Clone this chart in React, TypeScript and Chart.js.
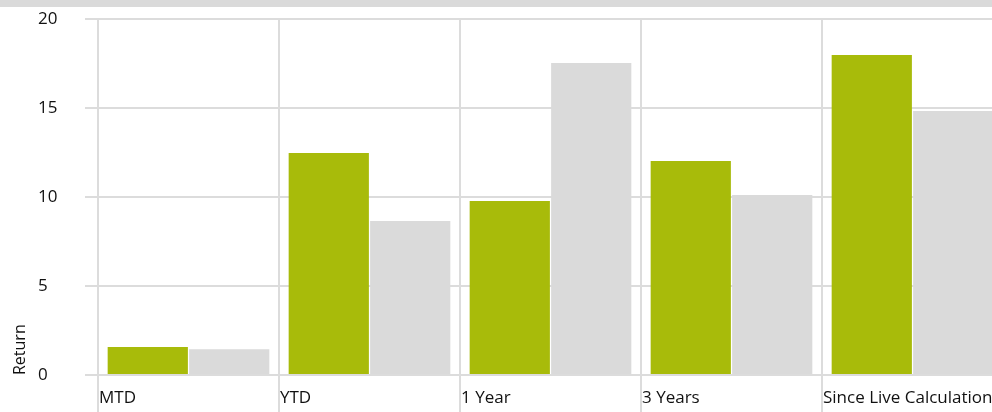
import React, { useEffect, useRef } from "react";
import { Chart, registerables } from "chart.js";

Chart.register(...registerables);

const categories = ["MTD", "YTD", "1 Year", "3 Years", "Since Live Calculation"];
const seriesGreen = [1.57, 12.47, 9.78, 12.02, 17.98];
const seriesGray = [1.45, 8.65, 17.53, 10.11, 14.83];
const yTicks = [0, 5, 10, 15, 20];
const yTitle = "Return";

const FONT = "'Open Sans', sans-serif";
const GRID = "#dcdcdc";

const yTitlePlugin = {
  id: "yTitlePlugin",
  afterDraw(chart: any) {
    const { ctx, chartArea } = chart;
    ctx.save();
    ctx.font = `16px ${FONT}`;
    ctx.fillStyle = "#111";
    ctx.translate(20, chartArea.bottom);
    ctx.rotate(-Math.PI / 2);
    ctx.textAlign = "left";
    ctx.textBaseline = "middle";
    ctx.fillText(yTitle, 0, 0);
    ctx.restore();
  },
};

export default function App() {
  const ref = useRef<HTMLCanvasElement | null>(null);
  useEffect(() => {
    document.body.style.margin = "0";
    const canvas = ref.current!;
    const chart = new Chart(canvas, {
      type: "bar",
      data: {
        labels: categories,
        datasets: [
          { label: "Return", data: seriesGreen, backgroundColor: "#a8bb0a", borderWidth: 0, categoryPercentage: 0.9, barPercentage: 0.985 },
          { label: "Benchmark", data: seriesGray, backgroundColor: "#dadada", borderWidth: 0, categoryPercentage: 0.9, barPercentage: 0.985 },
        ],
      },
      options: {
        animation: false,
        responsive: false,
        maintainAspectRatio: false,
        layout: { padding: { left: 38, top: 19, right: 0, bottom: 0 } },
        plugins: { legend: { display: false }, tooltip: { enabled: false } },
        scales: {
          x: {
            grid: { color: GRID, lineWidth: 2, tickLength: 40, offset: true, drawOnChartArea: true },
            border: { color: GRID, width: 2 },
            ticks: {
              color: "#111",
              font: { family: FONT, size: 17 },
              align: "start",
              labelOffset: -89.5,
              padding: -27,
              autoSkip: false,
              maxRotation: 0,
              minRotation: 0,
            },
            afterFit(scale: any) {
              scale.height = 37;
              scale.paddingLeft = 0;
              scale.paddingRight = 0;
            },
          },
          y: {
            min: 0,
            max: 20,
            afterBuildTicks(scale: any) {
              scale.ticks = yTicks.map((v) => ({ value: v }));
            },
            grid: { color: GRID, lineWidth: 2, tickLength: 13 },
            border: { color: GRID, width: 2 },
            ticks: {
              color: "#111",
              font: { family: FONT, size: 17 },
              crossAlign: "far",
              padding: 8,
            },
            afterFit(scale: any) {
              scale.width = 60;
              scale.paddingTop = 0;
              scale.paddingBottom = 0;
            },
          },
        },
      },
      plugins: [yTitlePlugin],
    });
    return () => chart.destroy();
  }, []);
  return (
    <div style={{ position: "relative", width: 992, height: 412, overflow: "hidden", background: "#fff" }}>
      <canvas ref={ref} width={1003} height={412} style={{ position: "absolute", left: 0, top: 0, width: 1003, height: 412 }} />
      <div style={{ position: "absolute", left: 0, top: 0, width: 992, height: 7, background: "#dadada" }} />
    </div>
  );
}
